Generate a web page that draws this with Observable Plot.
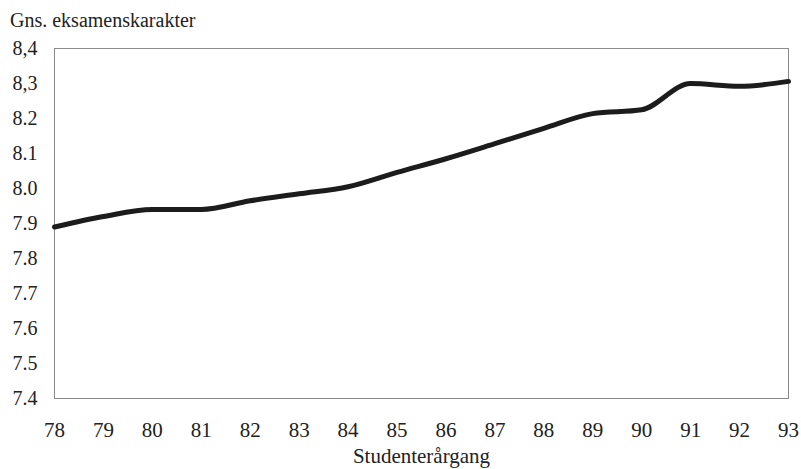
<!DOCTYPE html>
<html>
<head>
<meta charset="utf-8">
<script src="https://cdn.jsdelivr.net/npm/d3@7"></script>
<script src="https://cdn.jsdelivr.net/npm/@observablehq/plot@0.6"></script>
<style>
  body { margin: 0; background: #fff; }
  #title { height: 30px; box-sizing: border-box; padding: 10px 0 0 10px; font-size: 20px; font-family: "Liberation Serif", "Times New Roman", Times, "DejaVu Serif", serif; line-height: 20px; color: #222; }
</style>
</head>
<body>
<div id="title">Gns. eksamenskarakter</div>
<div id="chart"></div>
<script>
const years = [78, 79, 80, 81, 82, 83, 84, 85, 86, 87, 88, 89, 90, 91, 92, 93];
const grades = [7.89, 7.92, 7.94, 7.94, 7.965, 7.985, 8.005, 8.046, 8.085, 8.128, 8.172, 8.214, 8.225, 8.30, 8.292, 8.306];
const yTicks = [8.4, 8.3, 8.2, 8.1, 8.0, 7.9, 7.8, 7.7, 7.6, 7.5, 7.4];
const yTickLabels = ["8,4", "8,3", "8.2", "8.1", "8.0", "7.9", "7.8", "7.7", "7.6", "7.5", "7.4"];
const xLabel = "Studenterårgang";

const data = years.map((y, i) => ({year: y, grade: grades[i]}));

const serif = "'Liberation Serif', 'Times New Roman', Times, 'DejaVu Serif', serif";

const chart = Plot.plot({
  width: 801,
  height: 439,
  marginTop: 18,
  marginBottom: 71,
  marginLeft: 54,
  marginRight: 13,
  style: {fontFamily: serif, fontSize: "20px", color: "#222", background: "#fff"},
  x: {domain: [78, 93]},
  y: {domain: [7.4, 8.4]},
  marks: [
    Plot.frame({stroke: "#8a8a8a", strokeWidth: 1}),
    Plot.axisY({ticks: yTicks, tickSize: 0, tickPadding: 17, label: null, fontFamily: serif,
      tickFormat: d => yTickLabels[yTicks.findIndex(t => Math.abs(t - d) < 1e-9)]}),
    Plot.axisX({ticks: years, tickSize: 0, tickPadding: 24, tickFormat: d => String(d), fontFamily: serif,
      label: xLabel, labelAnchor: "center", labelArrow: "none", labelOffset: 64, fontSize: 21}),
    Plot.line(data, {x: "year", y: "grade", stroke: "#1c1c1c", strokeWidth: 5, curve: "monotone-x", strokeLinecap: "round", strokeLinejoin: "round"})
  ]
});
document.getElementById("chart").append(chart);
</script>
</body>
</html>
